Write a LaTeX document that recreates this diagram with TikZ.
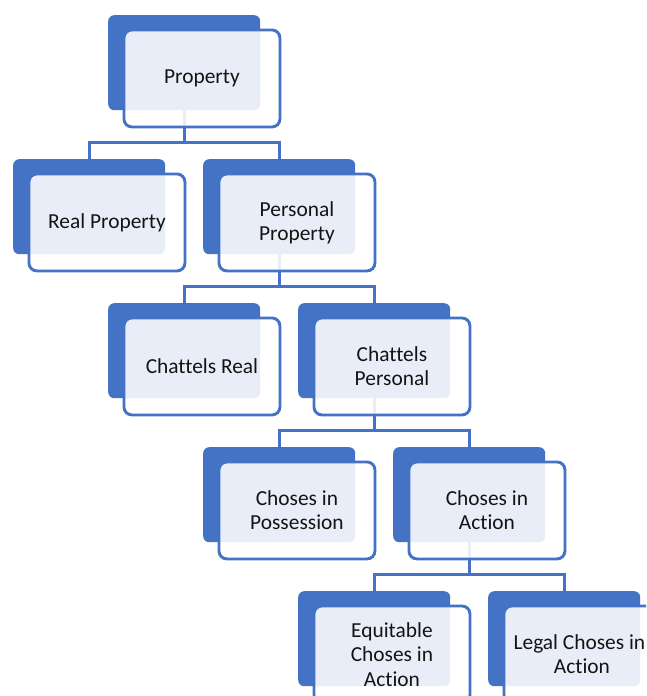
\documentclass[tikz,border=0pt]{standalone}
\usepackage{fontspec}
\setmainfont{Carlito}[Ligatures={NoCommon}]
\definecolor{accent}{HTML}{4472C4}
\definecolor{ink}{HTML}{141414}
\begin{document}
\begin{tikzpicture}[x=1pt,y=-1pt,
  backbox/.style={fill=accent, rounded corners=6pt, minimum width=152pt, minimum height=95pt, inner sep=0pt, anchor=north west},
  frontbox/.style={draw=accent, line width=2.9pt, fill=white, fill opacity=0.88, text opacity=1, rounded corners=8pt, minimum width=156pt, minimum height=97pt, inner sep=0pt, anchor=north west, align=center, font=\fontsize{21.4}{24.3}\selectfont, text=ink},
  link/.style={draw=accent, line width=2.8pt}]
\useasboundingbox (0,0) rectangle (646,696);
\clip (0,0) rectangle (646,696);
% back boxes
\node[backbox] (pb)  at (108,15) {};
\node[backbox] (rb)  at (13,159) {};
\node[backbox] (ppb) at (203,159) {};
\node[backbox] (crb) at (108,303) {};
\node[backbox] (cpb) at (298,303) {};
\node[backbox] (cib) at (203,447) {};
\node[backbox] (cab) at (393,447) {};
\node[backbox] (eqb) at (298,591) {};
\node[backbox] (lgb) at (488,591) {};
% connectors
\draw[link] (pb.south) -- ++(0,32) coordinate (j1);
\draw[link] (j1) -| (rb.north);
\draw[link] (j1) -| (ppb.north);
\draw[link] (ppb.south) -- ++(0,32) coordinate (j2);
\draw[link] (j2) -| (crb.north);
\draw[link] (j2) -| (cpb.north);
\draw[link] (cpb.south) -- ++(0,32) coordinate (j3);
\draw[link] (j3) -| (cib.north);
\draw[link] (j3) -| (cab.north);
\draw[link] (cab.south) -- ++(0,32) coordinate (j4);
\draw[link] (j4) -| (eqb.north);
\draw[link] (j4) -| (lgb.north);
% front boxes
\node[frontbox] (p)  at ([shift={(14.5,13.5)}]pb.north west) {Property};
\node[frontbox] (r)  at ([shift={(14.5,13.5)}]rb.north west) {Real Property};
\node[frontbox] (pp) at ([shift={(14.5,13.5)}]ppb.north west) {Personal\\Property};
\node[frontbox] (cr) at ([shift={(14.5,13.5)}]crb.north west) {Chattels Real};
\node[frontbox] (cp) at ([shift={(14.5,13.5)}]cpb.north west) {Chattels\\Personal};
\node[frontbox] (ci) at ([shift={(14.5,13.5)}]cib.north west) {Choses in\\Possession};
\node[frontbox] (ca) at ([shift={(14.5,13.5)}]cab.north west) {Choses in\\Action};
\node[frontbox] (eq) at ([shift={(14.5,13.5)}]eqb.north west) {Equitable\\Choses in\\Action};
\node[frontbox] (lg) at ([shift={(14.5,13.5)}]lgb.north west) {\hspace*{-5pt}Legal Choses in\\Action};
\end{tikzpicture}
\end{document}
